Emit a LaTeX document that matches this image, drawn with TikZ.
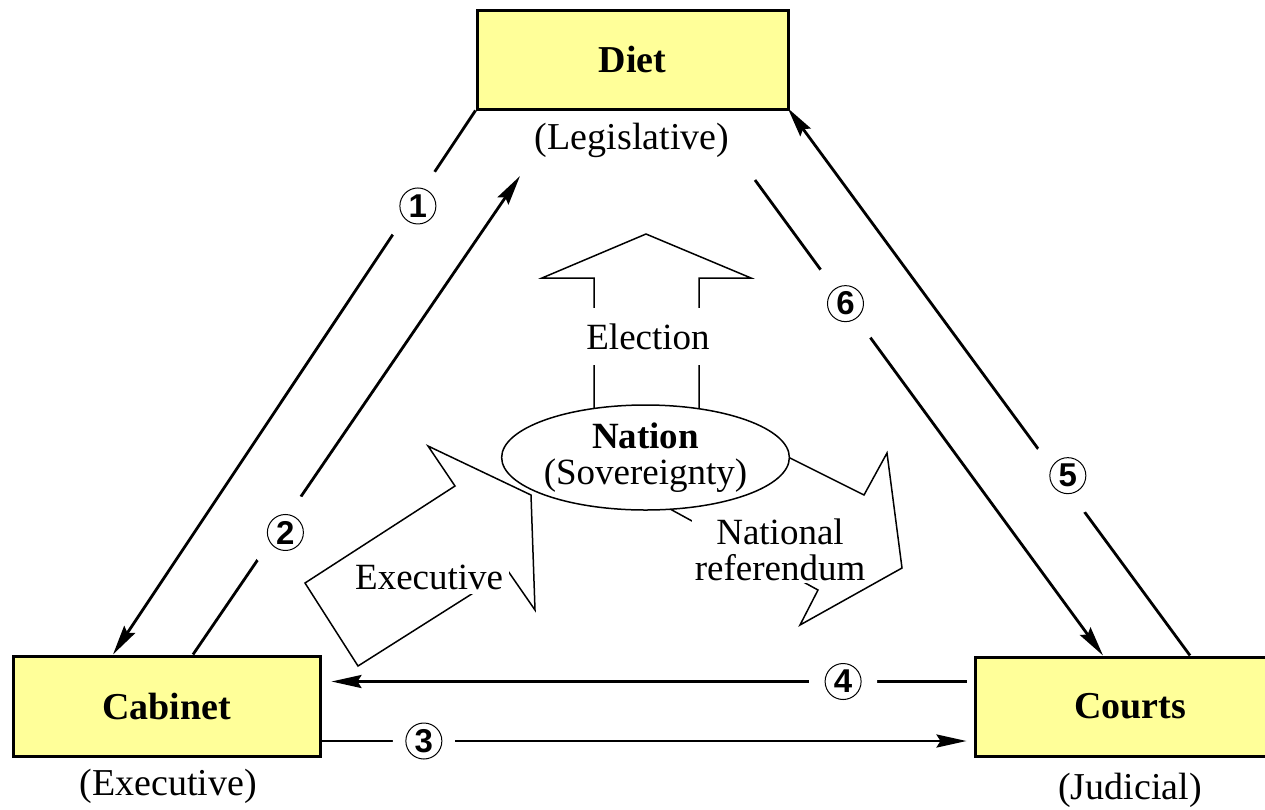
\documentclass[tikz,border=0pt]{standalone}
\usepackage{fontspec}
\setmainfont{Liberation Serif}
\newfontfamily\numfont{Liberation Sans}
\usetikzlibrary{arrows.meta,calc,shapes.geometric}
\definecolor{boxyellow}{RGB}{255,255,153}
\begin{document}
\begin{tikzpicture}[x=1pt,y=-1pt,
  box/.style={draw, line width=3pt, fill=boxyellow, inner sep=0pt,
    font=\fontsize{38}{42}\selectfont\bfseries},
  sub/.style={font=\fontsize{38}{42}\selectfont, inner sep=0pt},
  conn/.style={line width=2.8pt, -{Stealth[length=30pt,width=13pt,inset=4pt]}},
  num/.style={circle, draw, line width=1pt, fill=white, minimum size=36pt,
    inner sep=0pt, font=\numfont\bfseries\fontsize{33}{34}\selectfont,
    preaction={draw=white, line width=#1}},
  num/.default=40pt,
  hollow/.style={draw, line width=1.5pt, line join=miter},
  txt/.style={fill=white, font=\fontsize{37}{40}\selectfont, align=center}
]
\useasboundingbox (0,0) rectangle (1265,809);

% boxes
\node[box, minimum width=311pt, minimum height=99pt] (diet) at (632.5,59.5) {Diet};
\node[box, minimum width=307pt, minimum height=100pt] (cab) at (166.5,706) {Cabinet};
\node[box, minimum width=310pt, minimum height=99pt] (courts) at (1130,706.5) {Courts};

\node[sub] (legis) at (632,140) {(Legislative)};
\node[sub] (execl) at (168,786) {(Executive)};
\node[sub] (judl) at (1130,790) {(Judicial)};

\coordinate (c2end) at (520,176);
\coordinate (c6start) at (755,180);

% connectors
\draw[conn] (diet.south west) -- ([xshift=-53.5pt]cab.north) node[num=40pt, pos=0.1755, xshift=6pt] (n1) {1};
\draw[conn] ([xshift=26.5pt]cab.north) -- (c2end) node[num=42pt, pos=0.255, xshift=9pt] (n2) {2};
\draw[conn, shorten >=7pt] ([yshift=-35pt]cab.east) -- ([yshift=-35pt]cab.east -| courts.west) node[num=26pt, pos=0.157] (n3) {3};
\draw[conn, shorten <=7pt, shorten >=10pt] ([yshift=25pt]courts.west) -- ([yshift=25pt]courts.west -| cab.east) node[num=32pt, pos=0.2] (n4) {4};
\draw[conn, shorten >=-3pt] ([xshift=60pt]courts.north) -- (diet.south east) node[num=44pt, pos=0.33, xshift=10pt] (n5) {5};
\draw[conn] (c6start) -- ([xshift=-27pt]courts.north) node[num=48pt, pos=0.26] (n6) {6};

% hollow arrows
\draw[hollow] (594,430) -- (594,278) -- (542,278) -- (646,234) -- (751,278) -- (699,278) -- (699,430);
\draw[hollow] (305,583) -- (455,486) -- (428,446) -- (531,495) -- (535,610) -- (508,571) -- (358,666) -- cycle;
\draw[hollow] (650,498) -- (818,590) -- (800,625) -- (902,568) -- (887,453) -- (864,495) -- (770,448);

% nation
\node[ellipse, draw, fill=white, line width=1.5pt, minimum width=283pt, minimum height=105pt,
  inner sep=0pt, align=center, font=\fontsize{37}{40}\selectfont] (nation) at (645.5,457.5)
  {\textbf{Nation}\\[-4pt](Sovereignty)};

\node[txt, inner xsep=3pt, minimum height=57pt] (elec) at (648,336.5) {Election};
\node[txt, inner xsep=6pt, inner ysep=5pt, anchor=west] (exec) at (349,577) {Executive};
\node[txt, inner xsep=3pt, inner ysep=2pt] (ref) at (780,550) {National\\[-4pt]referendum};
\end{tikzpicture}
\end{document}
